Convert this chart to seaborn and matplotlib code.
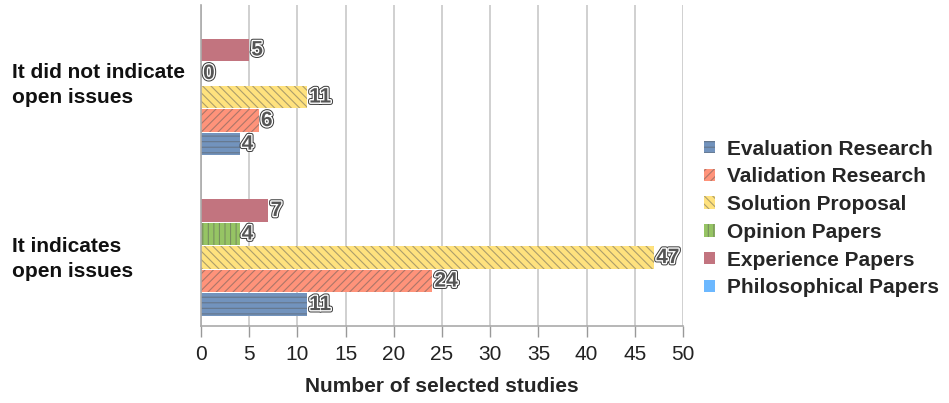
import matplotlib
matplotlib.use("Agg")
import matplotlib.pyplot as plt
import matplotlib.patheffects as pe
from matplotlib.patches import Patch
import seaborn as sns
import pandas as pd

categories = ["It did not indicate\nopen issues", "It indicates\nopen issues"]
series_names = ["Evaluation Research", "Validation Research", "Solution Proposal",
                "Opinion Papers", "Experience Papers", "Philosophical Papers"]
evaluation = [4, 11]
validation = [6, 24]
solution = [11, 47]
opinion = [0, 4]
experience = [5, 7]
philosophical = [0, 0]
x_ticks = [0, 5, 10, 15, 20, 25, 30, 35, 40, 45, 50]

values = {
    "Evaluation Research": evaluation,
    "Validation Research": validation,
    "Solution Proposal": solution,
    "Opinion Papers": opinion,
    "Experience Papers": experience,
    "Philosophical Papers": philosophical,
}
colors = {
    "Evaluation Research": "#7293bd",
    "Validation Research": "#ff937a",
    "Solution Proposal": "#ffe27e",
    "Opinion Papers": "#96c464",
    "Experience Papers": "#c2747f",
    "Philosophical Papers": "#6cb8ff",
}
hatches = {
    "Evaluation Research": "---",
    "Validation Research": "////",
    "Solution Proposal": "\\\\\\\\",
    "Opinion Papers": "|||",
    "Experience Papers": "",
    "Philosophical Papers": "",
}
labelled = {"Evaluation Research", "Validation Research", "Solution Proposal",
            "Opinion Papers", "Experience Papers"}

rows = []
for name in series_names:
    for cat, v in zip(categories, values[name]):
        rows.append({"category": cat, "series": name, "count": v})
df = pd.DataFrame(rows)

sns.set_theme(style="white")
plt.rcParams["font.family"] = ["Liberation Sans", "DejaVu Sans"]
plt.rcParams["hatch.linewidth"] = 0.8

fig = plt.figure(figsize=(9.49, 4.03), dpi=100)
ax = fig.add_axes([0.2118, 0.191, 0.508, 0.7966])

# top-to-bottom drawing order inside each category
hue_order = series_names[::-1]
sns.barplot(data=df, y="category", x="count", hue="series", order=categories,
            hue_order=hue_order, palette=colors, orient="h", width=0.88, gap=0.04,
            ax=ax, legend=False, linewidth=0, saturation=1)

stroke = [pe.Stroke(linewidth=3.4, foreground="#3a3a3a"),
          pe.Stroke(linewidth=2.0, foreground="white"),
          pe.Normal()]
for name, cont in zip(hue_order, ax.containers):
    for bar in cont:
        bar.set_hatch(hatches[name])
        bar.set_edgecolor((0.35, 0.35, 0.35, 0.5))
        bar.set_linewidth(0)
    if name in labelled:
        texts = ax.bar_label(cont, labels=[f"{v:.0f}" for v in cont.datavalues],
                             padding=1.5, fontsize=15, fontweight="bold", color="#555555")
        for t in texts:
            t.set_path_effects(stroke)

ax.set_xlim(0, 50)
ax.set_ylim(1.5, -0.5)
ax.set_xticks(x_ticks)
ax.set_xticklabels([str(t) for t in x_ticks], fontsize=15, color="#222222")
ax.grid(axis="x", color="#c8c8c8", linewidth=1.2)
ax.set_axisbelow(True)
ax.set_xlabel("Number of selected studies", fontsize=15, fontweight="bold", labelpad=9)
ax.set_ylabel("")

# category labels sit left-aligned at the far left of the figure
ax.set_yticks([0, 1])
ax.set_yticklabels([])
ax.tick_params(axis="y", length=0)
ax.set_yticks([-0.5, 0.5, 1.5], minor=True)
ax.tick_params(axis="y", which="minor", length=5, color="#999999", width=1)
label_shift = [0.0, 0.085]
for i, cat in enumerate(categories):
    ax.text(-0.393, i + label_shift[i], cat, transform=ax.get_yaxis_transform(),
            ha="left", va="center", fontsize=15, fontweight="bold", color="#111111",
            linespacing=1.4)

ax.tick_params(axis="x", length=8, color="#999999", width=1, pad=6, bottom=True)
for side in ["top", "right"]:
    ax.spines[side].set_visible(False)
for side in ["left", "bottom"]:
    ax.spines[side].set_color("#aaaaaa")
    ax.spines[side].set_linewidth(1.2)

handles = [Patch(facecolor=colors[n], hatch=hatches[n],
                 edgecolor=(0.35, 0.35, 0.35, 0.5), linewidth=0) for n in series_names]
fig.legend(handles, series_names, loc="center left", bbox_to_anchor=(0.733, 0.458),
           frameon=False, handlelength=0.55, handleheight=0.55,
           handletextpad=0.55, labelspacing=0.42, borderaxespad=0,
           prop={"weight": "bold", "size": 15})

fig.savefig("out.png", dpi=100)
